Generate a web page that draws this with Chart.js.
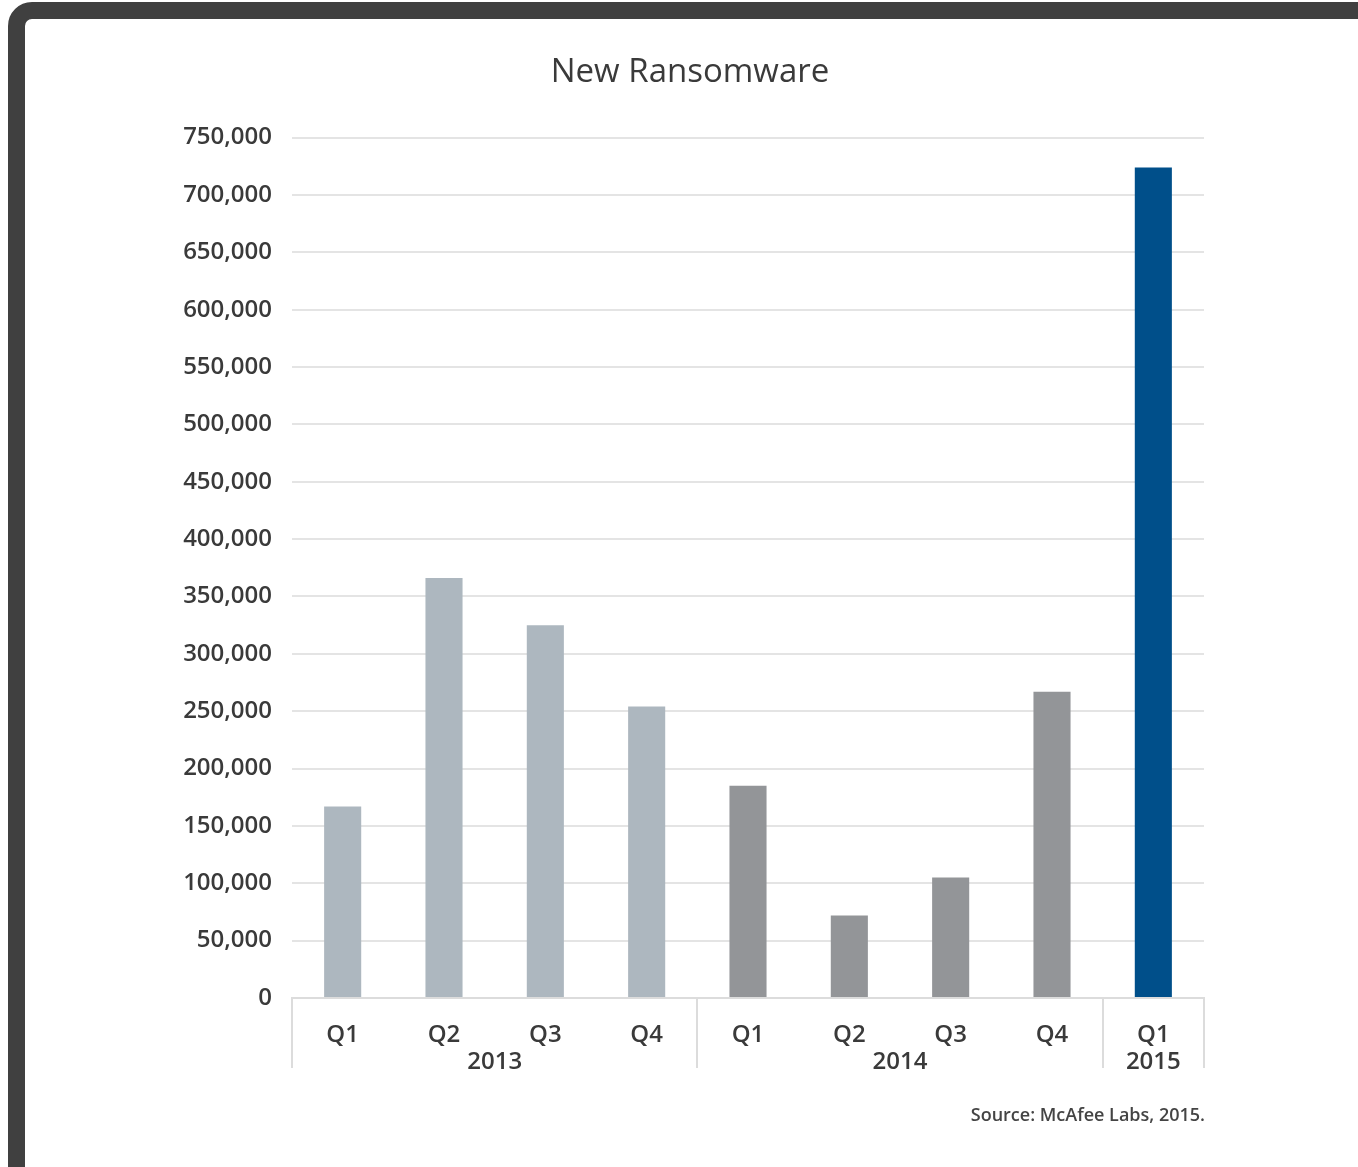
<!DOCTYPE html>
<html>
<head>
<meta charset="utf-8">
<script src="https://cdn.jsdelivr.net/npm/chart.js@4"></script>
<style>
  html, body { margin:0; padding:0; background:#fff; width:1358px; height:1167px; overflow:hidden; }
  #wrap { position:absolute; left:0; top:0; width:1358px; height:1167px; }
  #frame { position:absolute; left:8px; top:2px; width:1420px; height:1190px; border:17px solid #404040; border-radius:24px; box-sizing:border-box; pointer-events:none; }
  #source { position:absolute; right:153px; top:1102px; font-family:"Open Sans", sans-serif; font-size:18px; font-weight:600; color:#444; }
</style>
</head>
<body>
<div id="wrap"><canvas id="c" width="1358" height="1167"></canvas></div>
<div id="frame"></div>
<div id="source">Source: McAfee Labs, 2015.</div>
<script>
const quarters = ['Q1','Q2','Q3','Q4','Q1','Q2','Q3','Q4','Q1'];
const yearOf   = ['2013','2013','2013','2013','2014','2014','2014','2014','2015'];
const values   = [167000, 366000, 325000, 254000, 185000, 72000, 105000, 267000, 724000];
const yearLabels = ['2013','2014','2015'];
const yearColors = { '2013':'#adb7bf', '2014':'#939598', '2015':'#004f8a' };

const FONT = '"Open Sans", sans-serif';
const TXT = '#3a3a3a';

const groupPlugin = {
  id:'groups',
  afterDraw(chart){
    const x = chart.scales.x;
    const ctx = chart.ctx;
    const n = quarters.length;
    const half = (x.getPixelForValue(1) - x.getPixelForValue(0)) / 2;
    const bounds = [0];
    for (let i = 1; i < n; i++) if (yearOf[i] !== yearOf[i-1]) bounds.push(i);
    bounds.push(n);
    ctx.save();
    ctx.strokeStyle = '#dcdcdc';
    ctx.lineWidth = 2;
    bounds.forEach(b => {
      const px = b < n ? x.getPixelForValue(b) - half : x.getPixelForValue(n-1) + half;
      ctx.beginPath();
      ctx.moveTo(Math.round(px), x.top);
      ctx.lineTo(Math.round(px), x.top + 70);
      ctx.stroke();
    });
    ctx.fillStyle = TXT;
    ctx.font = '600 24px ' + FONT;
    ctx.textAlign = 'center';
    ctx.textBaseline = 'middle';
    yearLabels.forEach(y => {
      const idx = yearOf.map((v,i)=>v===y?i:-1).filter(i=>i>=0);
      const cx = (x.getPixelForValue(idx[0]) + x.getPixelForValue(idx[idx.length-1])) / 2;
      ctx.fillText(y, cx, x.top + 64);
    });
    ctx.restore();
  }
};

new Chart(document.getElementById('c'), {
  type:'bar',
  data:{
    labels: quarters,
    datasets:[{
      data: values,
      backgroundColor: yearOf.map(y => yearColors[y]),
      barPercentage: 0.366,
      categoryPercentage: 1.0
    }]
  },
  plugins:[groupPlugin],
  options:{
    responsive:false,
    animation:false,
    devicePixelRatio:1,
    layout:{ padding:{ left:176, right:154, top:0, bottom:0 } },
    plugins:{
      legend:{ display:false },
      tooltip:{ enabled:false },
      title:{
        display:true,
        text:'New Ransomware',
        color:TXT,
        font:{ family:FONT, size:33, weight:'500' },
        padding:{ top:53, bottom:45 }
      }
    },
    scales:{
      x:{
        grid:{ display:false },
        border:{ display:true, color:'#dcdcdc', width:2 },
        ticks:{ color:TXT, font:{ family:FONT, size:24, weight:'600' }, padding:15 },
        afterFit(s){ s.height = 169; }
      },
      y:{
        min:0, max:750000,
        ticks:{ stepSize:50000, color:TXT, font:{ family:FONT, size:24, weight:'600' }, padding:20,
          callback:v => v.toLocaleString('en-US') },
        grid:{ color:'#e4e4e4', lineWidth:2, drawTicks:false },
        border:{ display:false },
        afterFit(s){ s.width = 116; }
      }
    }
  }
});
</script>
</body>
</html>
